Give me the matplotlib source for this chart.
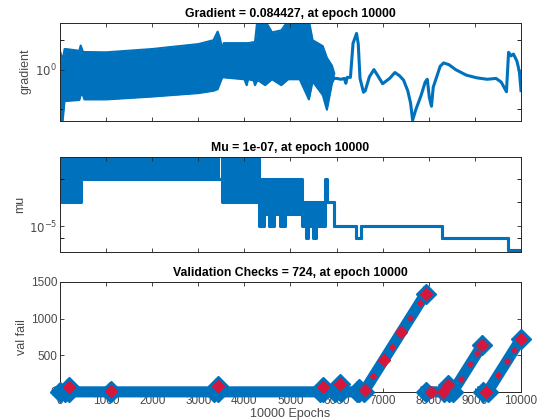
import numpy as np
import matplotlib
matplotlib.use("Agg")
import matplotlib.pyplot as plt
from matplotlib.ticker import FixedLocator, NullFormatter

plt.rcParams['font.family'] = ['Liberation Sans', 'DejaVu Sans']

BLUE = '#0072BD'
RED = '#D4173C'
TXT = '#4a4a4a'

# ---------------- Gradient (dense oscillating band, envelope)
grad_band_ep = [0, 60, 100, 130, 420, 450, 500, 530, 1000, 2000, 3000, 3330, 3420, 3470,
                3520, 3550, 4000, 4050, 4080, 4200, 4230, 4280, 4300, 4450, 4600, 4800,
                4950, 5200, 5400, 5480, 5700, 5790, 5900, 5950]
grad_band_lo = [0.0025, 0.0025, 0.025, 0.025, 0.028, 0.05, 0.05, 0.03, 0.03, 0.042, 0.063,
                0.083, 0.1, 0.2, 0.4, 0.4, 0.32, 0.16, 0.32, 0.28, 0.16, 0.28, 0.28, 0.16,
                0.32, 0.16, 0.32, 0.32, 0.03, 0.25, 0.05, 0.0089, 0.2, 0.355]
grad_band_hi = [9.1, 3.0, 11.2, 11.2, 9.1, 17, 7.9, 7.9, 7.6, 11.2, 20, 31.6, 87, 40,
                10, 22.4, 22.4, 22.4, 22.4, 25, 25, 316, 316, 316, 79, 100, 316, 316,
                316, 31.6, 15.8, 4.0, 1.58, 0.63]
# sparse tail of the gradient curve
grad_ep = [5950, 6000, 6100, 6168, 6200, 6230, 6300, 6357, 6433, 6470, 6508, 6583, 6621,
           6712, 6810, 6908, 6999, 7150, 7264, 7362, 7453, 7543, 7604, 7649, 7717, 7830,
           7921, 7967, 8012, 8058, 8096, 8171, 8247, 8322, 8436, 8587, 8814, 9041, 9268,
           9457, 9571, 9684, 9730, 9783, 9836, 9911, 9964, 10000]
grad_val = [0.355, 0.355, 0.32, 0.355, 0.2, 0.4, 0.4, 22, 70, 20, 0.355, 0.07, 0.083,
            0.43, 1.0, 0.43, 0.19, 0.355, 0.71, 0.49, 0.29, 0.083, 0.02, 0.0026, 0.0089,
            0.046, 0.23, 0.32, 0.037, 0.0135, 0.126, 0.43, 1.48, 2.19, 1.78, 0.98, 0.52,
            0.38, 0.32, 0.355, 0.23, 0.074, 7.6, 5.0, 6.2, 2.7, 0.79, 0.084427]

# ---------------- Mu (step levels, envelope of the oscillation)
mu_ep = [0, 40, 190, 250, 450, 3430, 3520, 4320, 4430, 4540, 4650, 4770, 4880, 5260,
         5340, 5390, 5490, 5550, 5600, 5750, 5800, 5940, 6430, 6540, 8280, 9720, 10000]
mu_lo = [1e-3, 1e-3, 1e-3, 1e-3, 1e-1, 1e-1, 1e-3, 1e-5, 1e-4, 1e-5, 1e-4, 1e-5, 1e-4,
         1e-5, 1e-6, 1e-5, 1e-6, 1e-5, 1e-5, 1e-3, 1e-3, 1e-5, 1e-6, 1e-5, 1e-6, 1e-7, 1e-7]
mu_hi = [10, 10, 1e-3, 10, 10, 1e-1, 10, 1e-1, 1e-1, 1e-1, 1e-1, 1e-1, 1e-1,
         1e-3, 1e-3, 1e-3, 1e-3, 1e-3, 1e-3, 1e-1, 1e-3, 1e-5, 1e-6, 1e-5, 1e-6, 1e-7, 1e-7]

# ---------------- Validation checks (segments separated by resets)
nan = np.nan
val_ep = [0, 120, 190, nan, 200, 1085, 1100, nan, 1110, 3340, 3420, nan, 3430, 5630, 5700,
          nan, 5710, 5970, 6080, nan, 6090, 6440, 6480, nan, 6490, 6590, 7930, nan,
          7940, 8330, 8420, nan, 8430, 8520, 9160, nan, 9170, 9276, 10000]
val_fail = [0, 0, 70, nan, 0, 0, 15, nan, 0, 0, 80, nan, 0, 0, 70, nan, 0, 0, 110, nan,
            0, 0, 40, nan, 0, 0, 1340, nan, 0, 0, 90, nan, 0, 0, 640, nan, 0, 0, 724]
red_ep = [190, 1100, 3420, 5700, 6080, 6620, 7020, 7400, 7930, 8040, 8300, 8420, 9160,
          9240, 10000]
red_val = [70, 15, 80, 70, 110, 30, 430, 810, 1340, 0, 0, 90, 640, 0, 724]
red_small_ep = [6800, 7200, 7600, 7800, 8700, 8900, 9050, 9500, 9700, 9850]
red_small_val = [210, 610, 1010, 1210, 180, 380, 530, 224, 424, 574]

x_ticks = list(range(0, 10001, 1000))

fig = plt.figure(figsize=(5.45, 4.2), dpi=100)
ax1 = fig.add_axes([0.110, 0.713, 0.846, 0.2333])
ax2 = fig.add_axes([0.110, 0.401, 0.846, 0.226])
ax3 = fig.add_axes([0.110, 0.067, 0.846, 0.262])

def style(ax):
    ax.tick_params(direction='in', length=3, width=0.6, top=True, right=True,
                   labelsize=8.5, colors='#262626', labelcolor=TXT, pad=2)
    ax.tick_params(which='minor', direction='in', length=3, width=0.6, top=True, right=True)
    for s in ax.spines.values():
        s.set_color('#262626')
        s.set_linewidth(0.7)
    ax.set_xlim(0, 10000)
    ax.set_xticks(x_ticks)

# Gradient
ax1.fill_between(grad_band_ep, grad_band_lo, grad_band_hi, color=BLUE, lw=0)
ax1.plot(grad_band_ep, grad_band_lo, color=BLUE, lw=1.5)
ax1.plot(grad_band_ep, grad_band_hi, color=BLUE, lw=1.5)
ax1.plot(grad_ep, grad_val, color=BLUE, lw=2.2)
ax1.set_yscale('log')
ax1.set_ylim(10**-2.6, 10**2.4)
style(ax1)
ax1.yaxis.set_major_locator(FixedLocator([1.0]))
ax1.yaxis.set_minor_locator(FixedLocator([1e-2, 10**1.5]))
ax1.yaxis.set_minor_formatter(NullFormatter())
ax1.set_yticklabels([r'$10^{0}$'])
ax1.set_xticklabels([])
ax1.set_ylabel('gradient', fontsize=9, color=TXT, labelpad=3)
ax1.set_title('Gradient = 0.084427, at epoch 10000', fontsize=8.8, fontweight='bold', pad=4)

# Mu
ax2.fill_between(mu_ep, mu_lo, mu_hi, step='post', color=BLUE, lw=0)
ax2.plot(mu_ep, mu_lo, drawstyle='steps-post', color=BLUE, lw=2.2)
ax2.plot(mu_ep, mu_hi, drawstyle='steps-post', color=BLUE, lw=2.2)
ax2.set_yscale('log')
ax2.set_ylim(10**-7.15, 10**0.85)
style(ax2)
ax2.yaxis.set_major_locator(FixedLocator([1e-5]))
ax2.yaxis.set_minor_locator(FixedLocator([1e-6, 1e-3, 1e-1]))
ax2.yaxis.set_minor_formatter(NullFormatter())
ax2.set_yticklabels([r'$10^{-5}$'])
ax2.set_xticklabels([])
ax2.set_ylabel('mu', fontsize=9, color=TXT, labelpad=2)
ax2.set_title('Mu = 1e-07, at epoch 10000', fontsize=8.8, fontweight='bold', pad=4)

# Validation checks
ax3.plot(val_ep, val_fail, color=BLUE, lw=8, marker='D', markersize=10,
         markerfacecolor=BLUE, markeredgecolor=BLUE, clip_on=False, zorder=3)
ax3.plot(red_small_ep, red_small_val, ls='none', marker='D', markersize=3,
         color=RED, clip_on=False, zorder=4)
ax3.plot(red_ep, red_val, ls='none', marker='D', markersize=6.5,
         color=RED, clip_on=False, zorder=4)
ax3.set_ylim(0, 1500)
style(ax3)
ax3.set_yticks([0, 500, 1000, 1500])
ax3.set_xticklabels([str(t) for t in x_ticks])
ax3.set_ylabel('val fail', fontsize=9, color=TXT, labelpad=2)
ax3.set_xlabel('10000 Epochs', fontsize=9, color=TXT, labelpad=1)
ax3.set_title('Validation Checks = 724, at epoch 10000', fontsize=8.8, fontweight='bold', pad=4)

fig.savefig('out.png', dpi=100)
